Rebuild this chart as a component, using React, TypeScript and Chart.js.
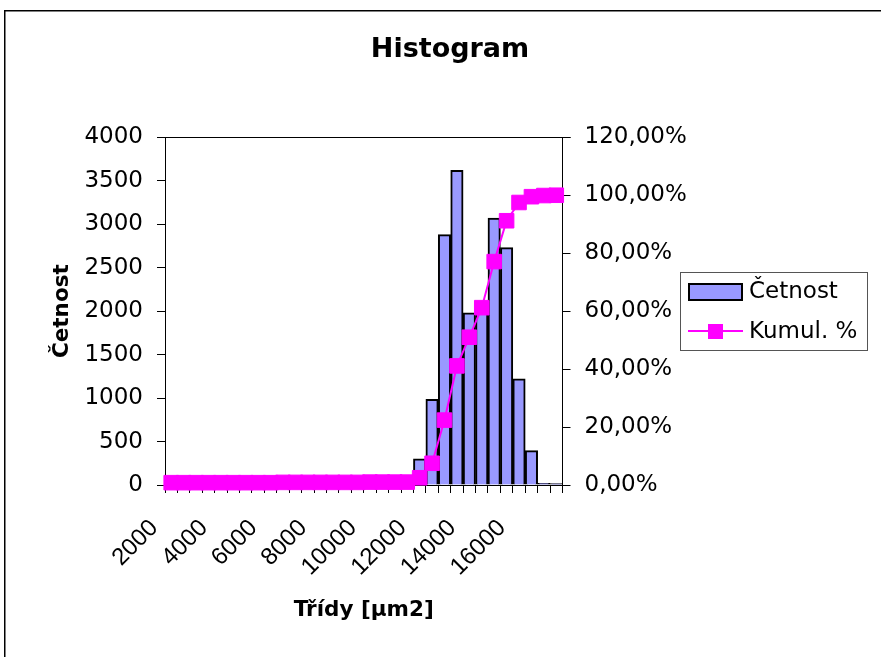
import { useEffect, useRef } from 'react';
import { Chart, registerables } from 'chart.js';

Chart.register(...registerables);

// Size classes (upper bounds of the bins, µm2)
const classes = [
  '2000', '2500', '3000', '3500', '4000', '4500', '5000', '5500',
  '6000', '6500', '7000', '7500', '8000', '8500', '9000', '9500',
  '10000', '10500', '11000', '11500', '12000', '12500', '13000', '13500',
  '14000', '14500', '15000', '15500', '16000', '16500', '17000', '17500',
];

// Labels printed under the axis
const shownClassLabels = ['2000', '4000', '6000', '8000', '10000', '12000', '14000', '16000'];

// Frequency of each class
const counts = [
  8, 2, 3, 2, 4, 3, 5, 4,
  6, 5, 7, 6, 8, 7, 9, 10,
  12, 11, 14, 16, 300, 985, 2880, 3620,
  1980, 1990, 3070, 2730, 1220, 395, 20, 15,
];

// Cumulative share in percent
const cumulative = [
  0.8, 0.8, 0.8, 0.8, 0.8, 0.8, 0.8, 0.8,
  0.8, 0.9, 0.9, 0.9, 0.9, 0.9, 0.9, 0.9,
  1.0, 1.0, 1.0, 1.0, 2.5, 7.5, 22.4, 41.1,
  51.0, 61.2, 77.1, 91.2, 97.5, 99.5, 99.9, 100.0,
];

const BAR_FILL = '#9999ff';
const LINE_COLOR = '#ff00ff';
const FONT = 'DejaVu Sans';
const ROT_FONT = 'Liberation Sans';

const W = 881;
const H = 657;

const pageFrame = {
  id: 'pageFrame',
  beforeDraw(chart: any) {
    const { ctx } = chart;
    ctx.save();
    ctx.fillStyle = '#ffffff';
    ctx.fillRect(0, 0, W, H);
    ctx.strokeStyle = '#000000';
    ctx.lineWidth = 1.5;
    ctx.strokeRect(4.75, 10.75, 1000, 1000);
    ctx.restore();
  },
  afterDraw(chart: any) {
    // top edge of the plot frame
    const { ctx, chartArea } = chart;
    ctx.save();
    ctx.strokeStyle = '#000000';
    ctx.lineWidth = 1;
    ctx.beginPath();
    ctx.moveTo(chartArea.left - 8, Math.round(chartArea.top) + 0.5);
    ctx.lineTo(chartArea.right + 8, Math.round(chartArea.top) + 0.5);
    ctx.stroke();
    ctx.restore();
  },
};

const boxLegend = {
  id: 'boxLegend',
  afterDraw(chart: any) {
    const { ctx } = chart;
    const names = chart.data.datasets.map((d: any) => d.label);
    ctx.save();
    ctx.strokeStyle = '#555555';
    ctx.lineWidth = 1;
    ctx.strokeRect(680.5, 272.5, 187, 78);

    // bar entry
    ctx.fillStyle = BAR_FILL;
    ctx.fillRect(688, 283, 55, 18);
    ctx.strokeStyle = '#000000';
    ctx.lineWidth = 2;
    ctx.strokeRect(689, 284, 53, 16);

    // line entry
    ctx.strokeStyle = LINE_COLOR;
    ctx.lineWidth = 2;
    ctx.beginPath();
    ctx.moveTo(688, 331);
    ctx.lineTo(743, 331);
    ctx.stroke();
    ctx.fillStyle = LINE_COLOR;
    ctx.fillRect(708, 324, 15, 15);

    ctx.fillStyle = '#000000';
    ctx.font = `23px "${FONT}"`;
    ctx.textBaseline = 'middle';
    ctx.textAlign = 'left';
    ctx.fillText(names[1], 749, 292.5);
    ctx.fillText(names[0], 749, 332);
    ctx.restore();
  },
};

const pct = (v: number) => `${v.toFixed(2).replace('.', ',')}%`;

export default function App() {
  const canvasRef = useRef<HTMLCanvasElement | null>(null);

  useEffect(() => {
    const canvas = canvasRef.current;
    if (!canvas) return;

    const chart = new Chart(canvas, {
      type: 'bar',
      data: {
        labels: classes,
        datasets: [
          {
            type: 'line',
            label: 'Kumul. %',
            data: cumulative,
            yAxisID: 'y1',
            order: 1,
            borderColor: LINE_COLOR,
            backgroundColor: LINE_COLOR,
            borderWidth: 2,
            tension: 0,
            pointStyle: 'rect',
            pointRadius: 10.3,
            pointBorderWidth: 1,
            pointBorderColor: LINE_COLOR,
            pointBackgroundColor: LINE_COLOR,
            clip: false as any,
          } as any,
          {
            type: 'bar',
            label: 'Četnost',
            data: counts,
            yAxisID: 'y',
            order: 2,
            backgroundColor: BAR_FILL,
            borderColor: '#000000',
            borderWidth: 2,
            barPercentage: 1,
            categoryPercentage: 1,
          } as any,
        ],
      },
      options: {
        responsive: false,
        devicePixelRatio: 1,
        animation: false,
        events: [],
        layout: { padding: { left: 19, right: 0, top: 0, bottom: 0 } },
        plugins: {
          legend: { display: false },
          tooltip: { enabled: false },
          title: {
            display: true,
            text: 'Histogram',
            color: '#000000',
            font: { family: FONT, size: 27, weight: 'bold' },
            padding: { top: 33.8, bottom: 71.1 },
          },
        },
        scales: {
          x: {
            type: 'category',
            position: 'bottom',
            grid: {
              display: true,
              drawOnChartArea: false,
              drawTicks: true,
              tickLength: 8,
              color: '#000000',
              lineWidth: 1,
              offset: true,
            },
            border: { display: true, color: '#000000', width: 1 },
            ticks: {
              autoSkip: false,
              maxRotation: 45,
              minRotation: 45,
              padding: 21,
              labelOffset: -17,
              color: '#000000',
              font: { family: ROT_FONT, size: 24 },
              callback: (_v: any, i: number) =>
                shownClassLabels.includes(classes[i]) ? classes[i] : '',
            },
            title: {
              display: true,
              text: 'Třídy [µm2]',
              color: '#000000',
              font: { family: FONT, size: 21.5, weight: 'bold' },
              padding: { top: 0, bottom: 33.6 },
            },
            afterFit: (s: any) => {
              s.height = H - 485;
            },
          },
          y: {
            type: 'linear',
            position: 'left',
            min: 0,
            max: 4000,
            grid: {
              display: true,
              drawOnChartArea: false,
              drawTicks: true,
              tickLength: 8,
              color: '#000000',
              lineWidth: 1,
            },
            border: { display: true, color: '#000000', width: 1 },
            ticks: {
              stepSize: 500,
              padding: 14,
              color: '#000000',
              font: { family: FONT, size: 23 },
              callback: (v: any) => String(v),
            },
            title: {
              display: true,
              text: 'Četnost',
              color: '#000000',
              font: { family: FONT, size: 21.5, weight: 'bold' },
              padding: { top: 30.6, bottom: 0 },
            },
            afterFit: (s: any) => {
              s.width = 165 - 19;
            },
          },
          y1: {
            type: 'linear',
            position: 'right',
            min: 0,
            max: 120,
            grid: {
              display: true,
              drawOnChartArea: false,
              drawTicks: true,
              tickLength: 8,
              color: '#000000',
              lineWidth: 1,
            },
            border: { display: true, color: '#000000', width: 1 },
            ticks: {
              stepSize: 20,
              padding: 14,
              color: '#000000',
              font: { family: FONT, size: 23 },
              callback: (v: any) => pct(Number(v)),
            },
            afterFit: (s: any) => {
              s.width = W - 562.5;
            },
          },
        },
      } as any,
      plugins: [pageFrame, boxLegend],
    });

    return () => chart.destroy();
  }, []);

  return (
    <div
      style={{
        position: 'absolute',
        left: 0,
        top: 0,
        width: W,
        height: H,
        overflow: 'hidden',
        background: '#ffffff',
      }}
    >
      <canvas ref={canvasRef} width={W} height={H} style={{ display: 'block' }} />
    </div>
  );
}
